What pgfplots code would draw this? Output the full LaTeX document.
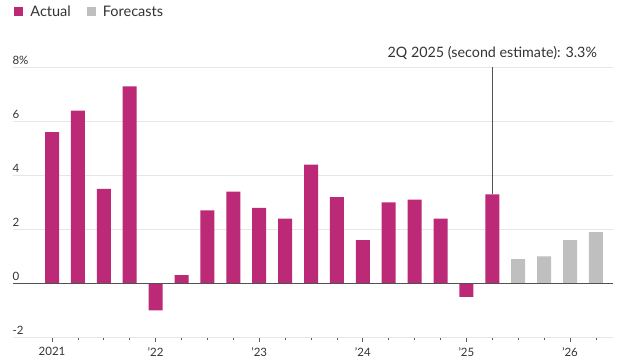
\documentclass[border=0pt]{standalone}
\usepackage{pgfplots}
\pgfplotsset{compat=1.18}
\usepackage{fontspec}
\setmainfont{Lato}
\definecolor{actual}{RGB}{187,41,119}
\definecolor{fcast}{RGB}{191,191,191}
\definecolor{txt}{RGB}{51,51,51}
\definecolor{gridc}{RGB}{230,230,230}
\begin{document}
\begin{tikzpicture}
\begin{axis}[
  at={(13bp,23.7bp)}, anchor=south west,
  scale only axis, width=600bp, height=269.8bp,
  xmin=-1.506, xmax=21.66, ymin=-2, ymax=8,
  clip=false,
  axis x line*=bottom, axis y line*=left,
  x axis line style={draw=gridc, line width=0.8pt},
  y axis line style={draw=none},
  xtick={0,4,8,12,16,20},
  xticklabels={2021,’22,’23,’24,’25,’26},
  minor xtick={1,2,3,5,6,7,9,10,11,13,14,15,17,18,19,21},
  tick align=outside,
  major tick length=4.5bp, minor tick length=3bp,
  x tick style={draw=txt!80, line width=0.8pt},
  ytick={-2,0,2,4,6,8},
  yticklabels={-2,0,2,4,6,8\%},
  y tick style={draw=none},
  ymajorgrids, grid style={draw=gridc, line width=0.8pt},
  yticklabel style={anchor=base west, xshift=0.5bp, yshift=2.5bp, font=\fontsize{11.5bp}{13bp}\selectfont, text=txt},
  xticklabel style={font=\fontsize{11.5bp}{13bp}\selectfont, text=txt, yshift=-2bp},
  legend style={at={(0.002,1.206)}, anchor=west, draw=none, fill=none, inner sep=0pt,
     font=\fontsize{14.5bp}{16bp}\selectfont, text=txt,
     /tikz/every odd column/.append style={column sep=5bp},
     /tikz/every even column/.append style={column sep=14bp}},
  legend columns=-1,
]
\addplot[ybar, bar width=14bp, fill=actual, draw=none,
  legend image code/.code={\fill[actual] (0bp,-4.5bp) rectangle (9bp,4.5bp);}]
  coordinates {(0,5.6) (1,6.4) (2,3.5) (3,7.3) (4,-1.0) (5,0.3) (6,2.7) (7,3.4)
   (8,2.8) (9,2.4) (10,4.4) (11,3.2) (12,1.6) (13,3.0) (14,3.1) (15,2.4) (16,-0.5) (17,3.3)};
\addlegendentry{Actual}
\addplot[ybar, bar width=14bp, fill=fcast, draw=none,
  legend image code/.code={\fill[fcast] (0bp,-4.5bp) rectangle (9bp,4.5bp);}]
  coordinates {(18,0.9) (19,1.0) (20,1.6) (21,1.9)};
\addlegendentry{Forecasts}
\draw[draw=txt!85, line width=1pt] (axis cs:-1.506,0) -- (axis cs:21.66,0);
\draw[draw=txt!85, line width=0.8pt] (axis cs:17,3.3) -- (axis cs:17,8);
\node[anchor=base, yshift=10bp, font=\fontsize{14.3bp}{16bp}\selectfont, text=txt] at (axis cs:17,8) {2Q 2025 (second estimate): 3.3\%};
\end{axis}
\pgfresetboundingbox
\useasboundingbox (0,0) rectangle (624bp,361bp);
\end{tikzpicture}
\end{document}
